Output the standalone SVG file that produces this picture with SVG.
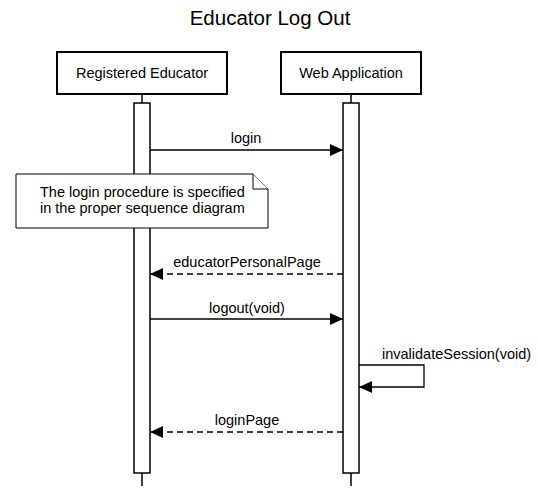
<svg xmlns="http://www.w3.org/2000/svg" width="538" height="489" viewBox="0 0 538 489">
<defs>
<style>
text{font-family:"Liberation Sans",Arial,sans-serif;fill:#000;font-size:14.5px}
.title{font-size:20.5px}
.actor{fill:#fff;stroke:#000;stroke-width:2}
.life{stroke:#000;stroke-width:1.5}
.act{fill:#fff;stroke:#000;stroke-width:1.5}
.msg{fill:none;stroke:#000;stroke-width:1.3}
.ret{fill:none;stroke:#000;stroke-width:1.3;stroke-dasharray:6 4}
.note{fill:#fff;stroke:#000;stroke-width:1}
</style>
<marker id="ah" markerWidth="14" markerHeight="13" refX="13" refY="6" orient="auto" markerUnits="userSpaceOnUse">
<path d="M0,0 L13,6 L0,12 Z" fill="#000"/>
</marker>
</defs>
<rect width="538" height="489" fill="#fff"/>
<text class="title" x="270" y="25" text-anchor="middle">Educator Log Out</text>
<g id="registered-educator">
<line class="life" x1="142" y1="94" x2="142" y2="486"/>
<rect class="actor" x="57" y="52" width="170" height="42"/>
<text x="142" y="78" text-anchor="middle">Registered Educator</text>
<rect class="act" x="134" y="103" width="16" height="370"/>
</g>
<g id="web-application">
<line class="life" x1="351" y1="94" x2="351" y2="486"/>
<rect class="actor" x="281" y="52" width="140" height="42"/>
<text x="351" y="78" text-anchor="middle">Web Application</text>
<rect class="act" x="343" y="103" width="16" height="370"/>
</g>
<g id="note">
<path class="note" d="M16,174 L253,174 L268,189 L268,228 L16,228 Z"/>
<path class="note" d="M253,174 L253,189 L268,189" fill="none"/>
<text x="40" y="197">The login procedure is specified</text>
<text x="40" y="213">in the proper sequence diagram</text>
</g>
<g id="connectors">
<line class="msg" x1="150" y1="150" x2="343" y2="150" marker-end="url(#ah)"/>
<text x="246" y="143" text-anchor="middle">login</text>
<line class="ret" x1="343" y1="274" x2="150" y2="274" marker-end="url(#ah)"/>
<text x="247" y="267" text-anchor="middle">educatorPersonalPage</text>
<line class="msg" x1="150" y1="319" x2="343" y2="319" marker-end="url(#ah)"/>
<text x="247" y="313" text-anchor="middle">logout(void)</text>
<path class="msg" d="M359,365 L424,365 L424,387 L359,387" marker-end="url(#ah)"/>
<text x="382" y="359">invalidateSession(void)</text>
<line class="ret" x1="343" y1="432" x2="150" y2="432" marker-end="url(#ah)"/>
<text x="247" y="425" text-anchor="middle">loginPage</text>
</g>
</svg>
